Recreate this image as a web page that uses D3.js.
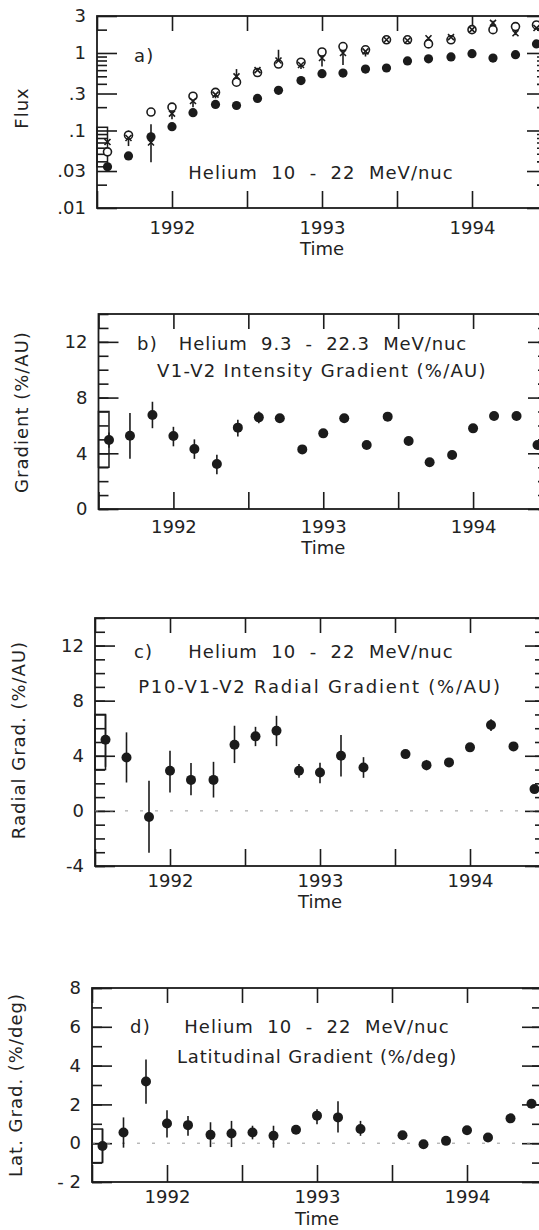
<!DOCTYPE html>
<html lang="en">
<head>
<meta charset="UTF-8" />
<title>Helium 10-22 MeV/nuc gradients</title>
<script src="https://d3js.org/d3.v7.min.js"></script>
<style>
  body { margin: 0; background: #fff; }
  svg { display: block; }
  text { font-family: "DejaVu Sans", sans-serif; fill: #222; white-space: pre; }
</style>
</head>
<body>
<svg id="chart"></svg>
<script>
// sample times (year), one point every two solar rotations
const times = [1991.57, 1991.71, 1991.86, 1992.00, 1992.14, 1992.29, 1992.43, 1992.57, 1992.71, 1992.86,
               1993.00, 1993.14, 1993.29, 1993.43, 1993.57, 1993.71, 1993.86, 1994.00, 1994.14, 1994.29, 1994.43];

// a) flux, three spacecraft
const fluxFilled = [0.034, 0.047, 0.083, 0.112, 0.17, 0.217, 0.21, 0.259, 0.33, 0.44, 0.54, 0.55, 0.62, 0.64, 0.79, 0.84, 0.89, 0.98, 0.86, 0.95, 1.31];
const fluxOpen   = [0.053, 0.087, 0.173, 0.2, 0.277, 0.31, 0.42, 0.56, 0.72, 0.76, 1.03, 1.21, 1.1, 1.48, 1.48, 1.31, 1.48, 2.0, 2.0, 2.19, 2.3];
const fluxCross  = [0.071, 0.08, 0.07, 0.165, 0.24, 0.29, 0.5, 0.6, 0.8, 0.7, 0.86, 1.0, 1.05, 1.48, 1.45, 1.55, 1.6, 2.0, 2.45, 1.8, 2.1];
const fluxCrossLo = [null, 0.063, 0.039, 0.14, 0.2, 0.26, 0.39, 0.53, 0.67, 0.62, 0.67, 0.7, 0.9, null, null, null, null, 1.8, 2.2, 1.7, null];
const fluxCrossHi = [null, 0.1, 0.12, 0.2, 0.29, 0.34, 0.62, 0.64, 1.1, 0.8, 1.0, 1.2, 1.2, null, null, null, null, 2.3, 2.6, 2.0, null];
const fluxBox = [0.034, 0.11];

// b) V1-V2 intensity gradient
const intGrad   = [4.95, 5.26, 6.75, 5.24, 4.31, 3.23, 5.84, 6.58, 6.51, 4.28, 5.43, 6.51, 4.59, 6.63, 4.88, 3.35, 3.88, 5.79, 6.68, 6.68, 4.59];
const intGradLo = [4.4, 3.6, 5.8, 4.5, 3.6, 2.5, 5.2, 6.15, 6.2, 4.0, 5.2, 6.25, 4.35, 6.35, 4.6, 3.1, 3.6, 5.5, 6.4, 6.4, 4.3];
const intGradHi = [5.5, 6.9, 7.7, 5.9, 5.0, 3.9, 6.4, 7.0, 6.8, 4.55, 5.65, 6.75, 4.85, 6.9, 5.15, 3.6, 4.15, 6.05, 6.95, 6.95, 4.85];
const intBox = [3, 7];

// c) P10-V1-V2 radial gradient
const radGrad   = [5.16, 3.88, -0.44, 2.91, 2.25, 2.25, 4.8, 5.41, 5.82, 2.91, 2.79, 4.0, 3.15, null, 4.12, 3.32, 3.52, 4.61, 6.23, 4.68, 1.58];
const radGradLo = [3.2, 2.06, -3.03, 1.34, 1.14, 0.97, 3.47, 4.7, 4.7, 2.4, 2.0, 2.5, 2.4, null, 3.85, 2.95, 3.25, 4.35, 5.8, 4.4, 1.3];
const radGradHi = [7.0, 5.7, 2.18, 4.36, 3.47, 3.56, 6.18, 6.1, 6.9, 3.4, 3.5, 5.5, 3.9, null, 4.4, 3.7, 3.8, 4.9, 6.65, 4.95, 1.85];
const radBox = [3, 7];

// d) latitudinal gradient
const latGrad   = [-0.14, 0.55, 3.18, 1.02, 0.93, 0.43, 0.5, 0.55, 0.38, 0.69, 1.42, 1.33, 0.73, null, 0.41, -0.05, 0.12, 0.67, 0.29, 1.28, 2.03];
const latGradLo = [-1.0, -0.23, 2.03, 0.3, 0.38, -0.2, -0.2, 0.2, -0.23, 0.5, 0.98, 0.55, 0.38, null, 0.25, -0.2, -0.05, 0.5, 0.1, 1.1, 1.85];
const latGradHi = [0.73, 1.33, 4.31, 1.7, 1.4, 1.08, 1.15, 0.9, 0.9, 0.85, 1.75, 2.16, 1.15, null, 0.6, 0.1, 0.3, 0.85, 0.5, 1.45, 2.2];
const latBox = [-1.0, 0.73];

// tick labels
const yearTicks = [1991.5, 1992, 1992.5, 1993, 1993.5, 1994, 1994.5];
const fluxTicks = [3, 1, 0.3, 0.1, 0.03, 0.01];
const fluxTickLabels = ["3", "1", ".3", ".1", ".03", ".01"];
const fluxMinor = [2, 0.9, 0.8, 0.7, 0.6, 0.5, 0.4, 0.2, 0.09, 0.08, 0.07, 0.06, 0.05, 0.04, 0.02];

const ink = "#1b1b1b";
const W = 539, H = 1230;
const xDomain = [1991.5, 1994.5];

const svg = d3.select("#chart").attr("width", W).attr("height", H);

function styleAxis(g) {
	g.select(".domain").remove();
	g.selectAll("line").attr("stroke", ink).attr("stroke-width", 1.6);
	g.selectAll("text")
		.attr("font-size", 18)
		.attr("font-family", "DejaVu Sans, sans-serif")
		.attr("fill", "#222");
}

function drawPanel(p) {
	const g = svg.append("g");
	const x = d3.scaleLinear().domain(xDomain).range([p.left, p.right]);
	const y = p.y.range([p.bottom, p.top]);

	// y axes, left and right, ticks pointing inward
	g.append("g").attr("transform", `translate(${p.left},0)`)
		.call(d3.axisLeft(y).tickValues(p.minor).tickSize(-10).tickFormat(""))
		.call(styleAxis);
	g.append("g").attr("transform", `translate(${p.left},0)`)
		.call(d3.axisLeft(y).tickValues(p.major).tickSize(-20).tickPadding(11)
			.tickFormat((d, i) => p.labels[i]))
		.call(styleAxis);
	g.append("g").attr("transform", `translate(${p.right},0)`)
		.call(d3.axisRight(y).tickValues(p.minor).tickSize(-10).tickFormat(""))
		.call(styleAxis);
	g.append("g").attr("transform", `translate(${p.right},0)`)
		.call(d3.axisRight(y).tickValues(p.major).tickSize(-20).tickFormat(""))
		.call(styleAxis);

	// time axes
	g.append("g").attr("transform", `translate(0,${p.bottom})`)
		.call(d3.axisBottom(x).tickValues(yearTicks).tickSize(-17).tickPadding(p.tickPad)
			.tickFormat(d => Number.isInteger(d) ? d : ""))
		.call(styleAxis);
	g.append("g").attr("transform", `translate(0,${p.top})`)
		.call(d3.axisTop(x).tickValues(yearTicks).tickSize(-15).tickFormat(""))
		.call(styleAxis);

	g.append("rect")
		.attr("x", p.left).attr("y", p.top)
		.attr("width", p.right - p.left).attr("height", p.bottom - p.top)
		.attr("fill", "none").attr("stroke", ink).attr("stroke-width", 1.8);

	g.append("text")
		.attr("x", x(1993)).attr("y", p.bottom + p.timeDy)
		.attr("text-anchor", "middle").attr("font-size", 18)
		.text("Time");

	g.append("text")
		.attr("transform", `translate(${p.titleX},${p.titleY}) rotate(-90)`)
		.attr("text-anchor", "middle").attr("font-size", 18)
		.attr("letter-spacing", 1)
		.text(p.title);

	if (p.zero) {
		g.append("line")
			.attr("x1", p.left).attr("x2", p.right)
			.attr("y1", y(0)).attr("y2", y(0))
			.attr("stroke", "#999").attr("stroke-width", 1)
			.attr("stroke-dasharray", "3,12");
	}

	// box at the start of the record
	g.append("rect")
		.attr("x", x(xDomain[0])).attr("y", y(p.box[1]))
		.attr("width", x(times[0]) - x(xDomain[0]))
		.attr("height", y(p.box[0]) - y(p.box[1]))
		.attr("fill", "none").attr("stroke", ink).attr("stroke-width", 1.5);

	p.notes.forEach(n => {
		g.append("text")
			.attr("x", n.x).attr("y", n.y)
			.attr("text-anchor", n.anchor || "middle")
			.attr("font-size", 18).attr("letter-spacing", n.ls != null ? n.ls : 1.2)
			.text(n.text);
	});

	return { g, x, y };
}

function errorBars(c, vals, lo, hi) {
	const idx = d3.range(times.length).filter(i => lo[i] != null && vals[i] != null);
	c.g.append("g").selectAll("line").data(idx).join("line")
		.attr("x1", i => c.x(times[i])).attr("x2", i => c.x(times[i]))
		.attr("y1", i => c.y(lo[i])).attr("y2", i => c.y(hi[i]))
		.attr("stroke", ink).attr("stroke-width", 1.6);
}

function dots(c, vals, r) {
	const idx = d3.range(times.length).filter(i => vals[i] != null);
	c.g.append("g").selectAll("circle").data(idx).join("circle")
		.attr("cx", i => c.x(times[i])).attr("cy", i => c.y(vals[i]))
		.attr("r", r).attr("fill", ink);
}

// panel a
const pa = drawPanel({
	left: 97, right: 547, top: 16, bottom: 208,
	y: d3.scaleLog().domain([0.01, 3]),
	major: fluxTicks, labels: fluxTickLabels, minor: fluxMinor,
	title: "Flux", titleX: 28, titleY: 108, box: fluxBox, tickPad: 13, timeDy: 47,
	notes: [
		{ x: 134, y: 62, text: "a)", anchor: "start" },
		{ x: 321, y: 179, text: "Helium  10  -  22  MeV/nuc", ls: 1 }
	]
});
errorBars(pa, fluxCross, fluxCrossLo, fluxCrossHi);
dots(pa, fluxFilled, 4.6);
pa.g.append("g").selectAll("circle").data(times).join("circle")
	.attr("cx", d => pa.x(d)).attr("cy", (d, i) => pa.y(fluxOpen[i]))
	.attr("r", 4).attr("fill", "#fff").attr("stroke", ink).attr("stroke-width", 1.6);
pa.g.append("g").selectAll("path").data(times).join("path")
	.attr("transform", (d, i) => `translate(${pa.x(d)},${pa.y(fluxCross[i])})`)
	.attr("d", "M-3,-3L3,3M-3,3L3,-3")
	.attr("stroke", ink).attr("stroke-width", 1.6);

// panel b
const pb = drawPanel({
	left: 98.5, right: 548, top: 314, bottom: 509,
	y: d3.scaleLinear().domain([0, 14]),
	major: [0, 4, 8, 12], labels: ["0", "4", "8", "12"], minor: d3.range(0, 15),
	title: "Gradient (%/AU)", titleX: 28, titleY: 412, box: intBox, tickPad: 11, timeDy: 45,
	notes: [
		{ x: 137, y: 350, text: "b)", anchor: "start" },
		{ x: 323, y: 350, text: "Helium  9.3  -  22.3  MeV/nuc", ls: 0.9 },
		{ x: 322, y: 377, text: "V1-V2 Intensity Gradient (%/AU)", ls: 1.3 }
	]
});
errorBars(pb, intGrad, intGradLo, intGradHi);
dots(pb, intGrad, 5);

// panel c
const pc = drawPanel({
	left: 95, right: 545, top: 618, bottom: 866,
	y: d3.scaleLinear().domain([-4, 14]),
	major: [-4, 0, 4, 8, 12], labels: ["-4", "0", "4", "8", "12"], minor: d3.range(-4, 15),
	title: "Radial Grad. (%/AU)", titleX: 25, titleY: 740, box: radBox, zero: true, tickPad: 8, timeDy: 42,
	notes: [
		{ x: 134, y: 658, text: "c)", anchor: "start" },
		{ x: 321, y: 658, text: "Helium  10  -  22  MeV/nuc", ls: 1 },
		{ x: 320, y: 693, text: "P10-V1-V2 Radial Gradient (%/AU)", ls: 1.8 }
	]
});
errorBars(pc, radGrad, radGradLo, radGradHi);
dots(pc, radGrad, 5);

// panel d
const pd = drawPanel({
	left: 92, right: 542, top: 988, bottom: 1182,
	y: d3.scaleLinear().domain([-2, 8]),
	major: [-2, 0, 2, 4, 6, 8], labels: ["- 2", "0", "2", "4", "6", "8"], minor: d3.range(-2, 9),
	title: "Lat. Grad. (%/deg)", titleX: 22, titleY: 1085, box: latBox, zero: true, tickPad: 8, timeDy: 43,
	notes: [
		{ x: 130, y: 1033, text: "d)", anchor: "start" },
		{ x: 317, y: 1033, text: "Helium  10  -  22  MeV/nuc", ls: 1 },
		{ x: 317, y: 1063, text: "Latitudinal Gradient (%/deg)", ls: 0.85 }
	]
});
errorBars(pd, latGrad, latGradLo, latGradHi);
dots(pd, latGrad, 5);
</script>
</body>
</html>
